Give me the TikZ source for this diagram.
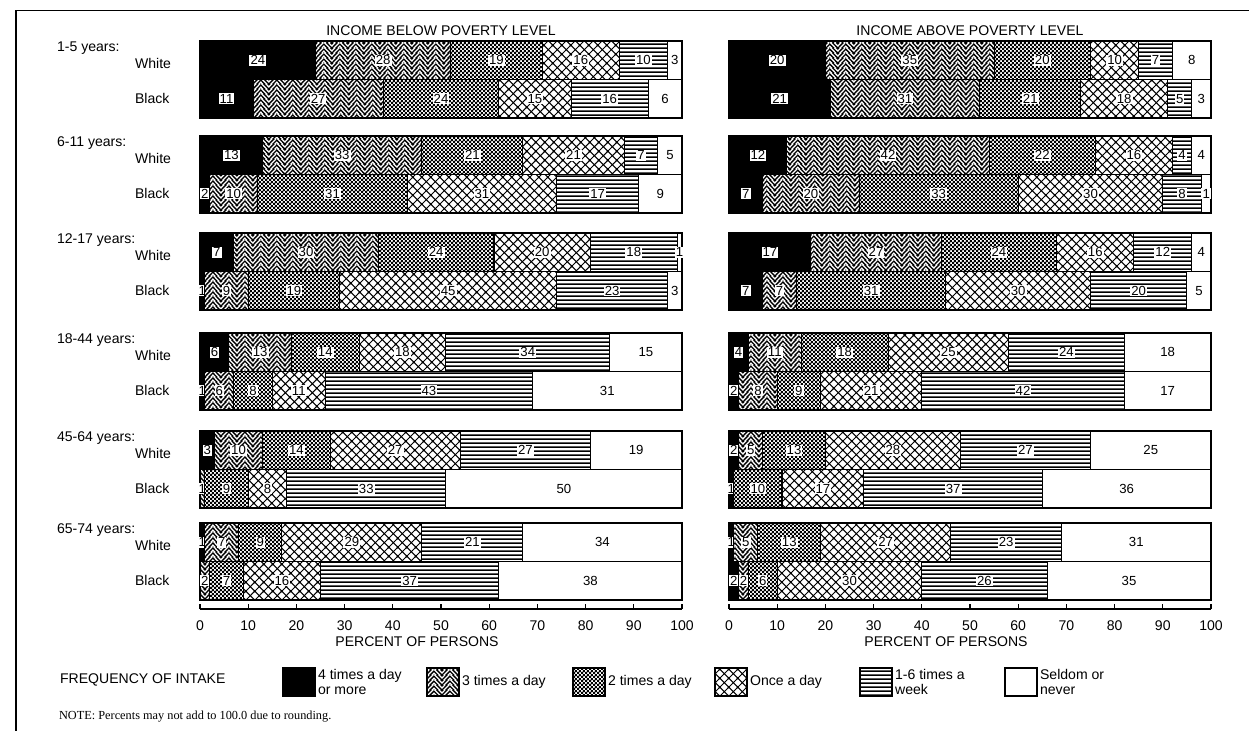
\documentclass[tikz,border=0pt]{standalone}
\usepackage{fontspec}
\setmainfont{Liberation Sans}
\newfontfamily\notefont{Liberation Serif}
\usetikzlibrary{patterns}

% fill patterns for the intake frequencies
\pgfdeclarepatternformonly{zigzag}{\pgfpointorigin}{\pgfqpoint{9pt}{2.6pt}}{\pgfqpoint{9pt}{2.6pt}}{%
  \pgfsetlinewidth{0.8pt}%
  \foreach \k in {-1,0,1,2,3}{%
    \pgfpathmoveto{\pgfpoint{-4.5pt}{5pt-\k*2.6pt}}%
    \pgfpathlineto{\pgfpoint{0pt}{-\k*2.6pt}}%
    \pgfpathlineto{\pgfpoint{4.5pt}{5pt-\k*2.6pt}}%
    \pgfpathlineto{\pgfpoint{9pt}{-\k*2.6pt}}%
    \pgfpathlineto{\pgfpoint{13.5pt}{5pt-\k*2.6pt}}%
    \pgfusepath{stroke}%
  }%
}
\pgfdeclarepatternformonly{checker}{\pgfpointorigin}{\pgfqpoint{2.4pt}{2.4pt}}{\pgfqpoint{2.4pt}{2.4pt}}{%
  \pgfpathrectangle{\pgfpointorigin}{\pgfqpoint{1.35pt}{1.35pt}}%
  \pgfpathrectangle{\pgfqpoint{1.2pt}{1.2pt}}{\pgfqpoint{1.35pt}{1.35pt}}%
  \pgfusepath{fill}%
}
\pgfdeclarepatternformonly{crossdiag}{\pgfpointorigin}{\pgfqpoint{5pt}{5pt}}{\pgfqpoint{5pt}{5pt}}{%
  \pgfsetlinewidth{0.6pt}%
  \pgfpathmoveto{\pgfqpoint{-1pt}{-1pt}}\pgfpathlineto{\pgfqpoint{6pt}{6pt}}%
  \pgfpathmoveto{\pgfqpoint{-1pt}{6pt}}\pgfpathlineto{\pgfqpoint{6pt}{-1pt}}%
  \pgfpathmoveto{\pgfqpoint{-1pt}{4pt}}\pgfpathlineto{\pgfqpoint{1pt}{6pt}}%
  \pgfpathmoveto{\pgfqpoint{4pt}{-1pt}}\pgfpathlineto{\pgfqpoint{6pt}{1pt}}%
  \pgfpathmoveto{\pgfqpoint{-1pt}{1pt}}\pgfpathlineto{\pgfqpoint{1pt}{-1pt}}%
  \pgfpathmoveto{\pgfqpoint{4pt}{6pt}}\pgfpathlineto{\pgfqpoint{6pt}{4pt}}%
  \pgfusepath{stroke}%
}
\pgfdeclarepatternformonly{hlines}{\pgfpointorigin}{\pgfqpoint{60pt}{2.2pt}}{\pgfqpoint{60pt}{2.2pt}}{%
  \pgfpathrectangle{\pgfqpoint{-1pt}{0.6pt}}{\pgfqpoint{62pt}{1pt}}%
  \pgfusepath{fill}%
}

% one stacked bar: name, x of 0 %, top y, six values
\newcommand\freqbar[4]{%
  \gdef\runsum{0}%
  \foreach \v [count=\k] in {#4}{%
    \pgfmathsetmacro\lo{\runsum}%
    \pgfmathsetmacro\hi{\k==6 ? 100 : \runsum+\v}%
    \ifnum\v>0
      \draw[freq\k] (#2+\lo*4.82,#3) rectangle (#2+\hi*4.82,#3+38.5);
      \node[num] (#1-\k) at (#2+\lo*2.41+\hi*2.41,#3+19.25) {\v};
    \fi
    \xdef\runsum{\hi}%
  }%
}

\begin{document}
\begin{tikzpicture}[x=0.02cm,y=-0.02cm]
  \tikzset{lbl/.style = {font=\fontsize{8}{9}\selectfont,inner sep=1pt}}
  \tikzset{num/.style = {fill=white,inner sep=0.6pt,font=\fontsize{7.5}{8}\selectfont}}
  \tikzset{freq1/.style = {draw,line width=0.6pt,fill=black}}
  \tikzset{freq2/.style = {draw,line width=0.6pt,pattern=zigzag}}
  \tikzset{freq3/.style = {draw,line width=0.6pt,pattern=checker}}
  \tikzset{freq4/.style = {draw,line width=0.6pt,pattern=crossdiag}}
  \tikzset{freq5/.style = {draw,line width=0.6pt,pattern=hlines}}
  \tikzset{freq6/.style = {draw,line width=0.6pt,fill=white}}

  \useasboundingbox (0,0) rectangle (1249,731);
  \draw[line width=0.8pt] (1249,10.5) -- (16,10.5) -- (16,731);

  \node[lbl] (below) at (441,31) {INCOME BELOW POVERTY LEVEL};
  \node[lbl] (above) at (970,31) {INCOME ABOVE POVERTY LEVEL};

  \foreach \t/\age [count=\g] in {41/1-5,136/6-11,233/12-17,333/18-44,431/45-64,523/65-74}{
    \node[lbl,anchor=west] (age\g) at (55,\t+7) {\age\ years:};
    \node[lbl,anchor=west] (white\g) at (133,\t+22) {White};
    \node[lbl,anchor=west] (black\g) at (133,\t+57) {Black};
  }

  % below poverty level
  \freqbar{lw1}{200}{41}{24,28,19,16,10,3}
  \freqbar{lb1}{200}{79.5}{11,27,24,15,16,6}
  \freqbar{lw2}{200}{136}{13,33,21,21,7,5}
  \freqbar{lb2}{200}{174.5}{2,10,31,31,17,9}
  \freqbar{lw3}{200}{233}{7,30,24,20,18,1}
  \freqbar{lb3}{200}{271.5}{1,9,19,45,23,3}
  \freqbar{lw4}{200}{333}{6,13,14,18,34,15}
  \freqbar{lb4}{200}{371.5}{1,6,8,11,43,31}
  \freqbar{lw5}{200}{431}{3,10,14,27,27,19}
  \freqbar{lb5}{200}{469.5}{0,1,9,8,33,50}
  \freqbar{lw6}{200}{523}{1,7,9,29,21,34}
  \freqbar{lb6}{200}{561.5}{0,2,7,16,37,38}

  % above poverty level
  \freqbar{rw1}{729}{41}{20,35,20,10,7,8}
  \freqbar{rb1}{729}{79.5}{21,31,21,18,5,3}
  \freqbar{rw2}{729}{136}{12,42,22,16,4,4}
  \freqbar{rb2}{729}{174.5}{7,20,33,30,8,1}
  \freqbar{rw3}{729}{233}{17,27,24,16,12,4}
  \freqbar{rb3}{729}{271.5}{7,7,31,30,20,5}
  \freqbar{rw4}{729}{333}{4,11,18,25,24,18}
  \freqbar{rb4}{729}{371.5}{2,8,9,21,42,17}
  \freqbar{rw5}{729}{431}{2,5,13,28,27,25}
  \freqbar{rb5}{729}{469.5}{1,0,10,17,37,36}
  \freqbar{rw6}{729}{523}{1,5,13,27,23,31}
  \freqbar{rb6}{729}{561.5}{2,2,6,30,26,35}

  % axes
  \foreach \ox/\ax in {200/l,729/r}{
    \draw[line width=0.6pt] (\ox,609) -- (\ox+482,609);
    \foreach \p in {0,10,...,100}{
      \draw[line width=0.6pt] (\ox+\p*4.82,609) -- ++(0,-5);
      \node[lbl] (tick-\ax-\p) at (\ox+\p*4.82,626) {\p};
    }
    \node[lbl] (pct-\ax) at (\ox+217,642) {PERCENT OF PERSONS};
  }

  % legend
  \node[lbl,anchor=west] (freq) at (58,680) {FREQUENCY OF INTAKE};
  \foreach \k/\bx/\tx in {1/283/{4 times a day\\or more},2/427/3 times a day,
      3/573/2 times a day,4/715/Once a day,5/860/{1-6 times a\\week},6/1005/{Seldom or\\never}}{
    \draw[freq\k] (\bx,668) rectangle (\bx+32,696);
    \node[lbl,anchor=west,align=left] (key\k) at (\bx+33,682) {\tx};
  }

  \node[anchor=west,inner sep=1pt,font=\notefont\fontsize{7}{8}\selectfont] (note) at (57,717)
    {NOTE: Percents may not add to 100.0 due to rounding.};
\end{tikzpicture}
\end{document}
